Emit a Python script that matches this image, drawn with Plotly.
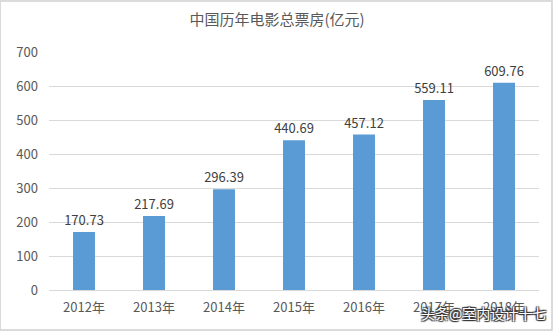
import plotly.graph_objects as go

categories = ["2012年", "2013年", "2014年", "2015年", "2016年", "2017年", "2018年"]
values = [170.73, 217.69, 296.39, 440.69, 457.12, 559.11, 609.76]
labels = ["170.73", "217.69", "296.39", "440.69", "457.12", "559.11", "609.76"]
y_ticks = [0, 100, 200, 300, 400, 500, 600, 700]
title_text = "中国历年电影总票房(亿元)"
watermark = "头条@室内设计十七"

FONT = "Noto Sans CJK SC, Lato, sans-serif"

fig = go.Figure(
    go.Bar(
        x=categories,
        y=values,
        text=labels,
        textposition="outside",
        constraintext="none",
        textfont=dict(family=FONT, size=13, color="#404040"),
        marker=dict(color="#5B9BD5", line=dict(width=0)),
        cliponaxis=False,
    )
)

fig.update_layout(
    width=554,
    height=332,
    margin=dict(l=49, r=15, t=52, b=42),
    paper_bgcolor="white",
    plot_bgcolor="white",
    bargap=0.686,
    showlegend=False,
    uniformtext=dict(mode=False),
    title=dict(
        text=title_text,
        x=0.5,
        xanchor="center",
        y=1 - 20 / 332,
        yanchor="middle",
        font=dict(family=FONT, size=15, color="#595959"),
    ),
    xaxis=dict(
        showgrid=False,
        showline=True,
        linecolor="#D9D9D9",
        linewidth=1,
        ticks="",
        ticklabelstandoff=5,
        tickfont=dict(family=FONT, size=13, color="#595959"),
    ),
    yaxis=dict(
        range=[0, 700],
        tickvals=y_ticks,
        showgrid=True,
        gridcolor="#D9D9D9",
        gridwidth=1,
        zeroline=False,
        showline=False,
        ticks="",
        ticklabelstandoff=10,
        tickfont=dict(family=FONT, size=13, color="#595959"),
    ),
    shapes=[
        dict(
            type="rect", xref="paper", yref="paper",
            x0=-49 / 490, x1=1 + 13 / 490, y0=-40 / 238, y1=1 + 51 / 238,
            line=dict(color="#D0D0D0", width=1.5), fillcolor="rgba(0,0,0,0)",
            layer="above",
        )
    ],
    annotations=[
        dict(
            text=watermark,
            xref="paper", yref="paper",
            x=1 + 9 / 490, y=-23 / 238,
            xanchor="right", yanchor="middle",
            showarrow=False,
            font=dict(family=FONT, size=14, color="white",
                      shadow="1px 1px 1px #333, -1px -1px 1px #333, 1px -1px 1px #333, -1px 1px 1px #333"),
        )
    ],
)

fig.write_html("out.html")
